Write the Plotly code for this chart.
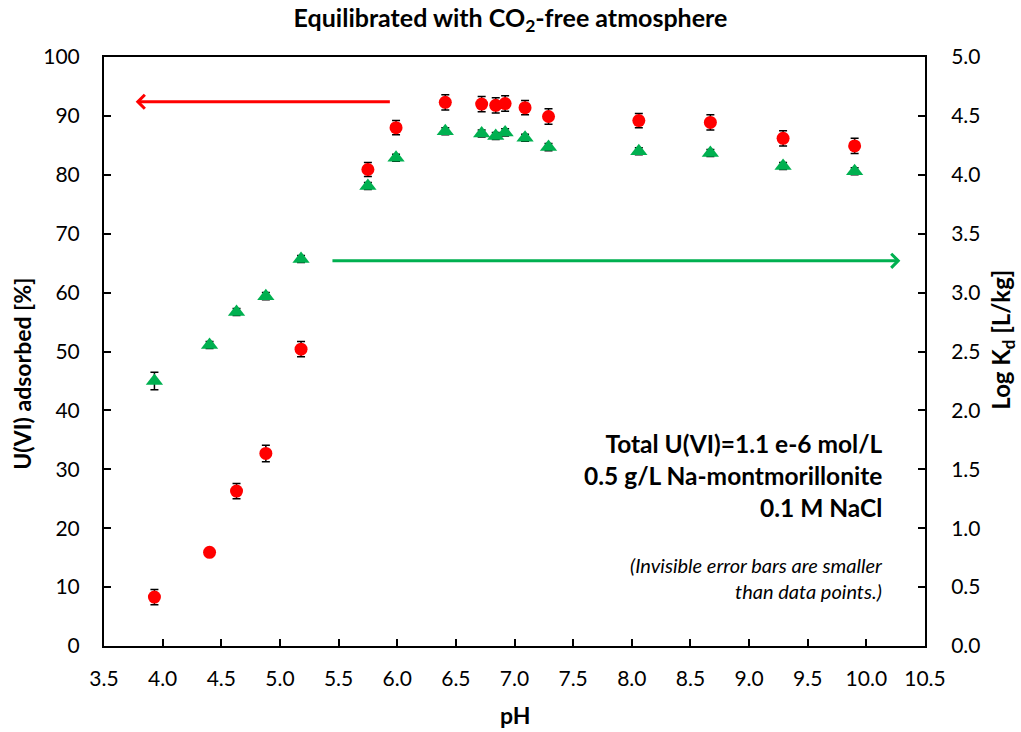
import plotly.graph_objects as go

# ---- data ----
ph_red = [3.93, 4.40, 4.63, 4.88, 5.18, 5.75, 5.99, 6.41, 6.72, 6.84, 6.92, 7.09, 7.29, 8.06, 8.67, 9.29, 9.90]
u_ads = [8.3, 15.9, 26.3, 32.7, 50.4, 80.9, 88.0, 92.3, 92.0, 91.8, 92.1, 91.4, 89.9, 89.2, 88.9, 86.2, 84.9]
u_err = [1.3, 0.6, 1.3, 1.4, 1.3, 1.2, 1.2, 1.3, 1.3, 1.3, 1.3, 1.2, 1.3, 1.2, 1.3, 1.3, 1.3]

ph_green = [3.93, 4.40, 4.63, 4.88, 5.18, 5.75, 5.99, 6.41, 6.72, 6.84, 6.92, 7.09, 7.29, 8.06, 8.67, 9.29, 9.90]
log_kd = [2.25, 2.555, 2.835, 2.97, 3.285, 3.905, 4.145, 4.37, 4.35, 4.33, 4.36, 4.315, 4.235, 4.2, 4.185, 4.075, 4.03]
kd_err = [0.074, 0.03, 0.03, 0.03, 0.03, 0.03, 0.03, 0.03, 0.03, 0.03, 0.03, 0.03, 0.03, 0.03, 0.03, 0.03, 0.03]

x_ticks = [3.5, 4.0, 4.5, 5.0, 5.5, 6.0, 6.5, 7.0, 7.5, 8.0, 8.5, 9.0, 9.5, 10.0, 10.5]

FONT = "Lato"
RED = "#FF0000"
GREEN = "#00B050"

fig = go.Figure()

fig.add_trace(go.Scatter(
    x=ph_green, y=log_kd, yaxis="y2", mode="markers",
    marker=dict(symbol="triangle-up", size=15, color=GREEN),
    error_y=dict(type="data", array=kd_err, color="black", thickness=1.5, width=4),
    name="Log Kd", showlegend=False,
))
fig.add_trace(go.Scatter(
    x=ph_red, y=u_ads, yaxis="y", mode="markers",
    marker=dict(symbol="circle", size=13, color=RED),
    error_y=dict(type="data", array=u_err, color="black", thickness=1.5, width=4),
    name="U(VI) adsorbed", showlegend=False,
))

axis_common = dict(
    showline=True, linecolor="black", linewidth=2,
    ticks="inside", ticklen=7, tickwidth=2, tickcolor="black",
    showgrid=False, zeroline=False,
    tickfont=dict(family=FONT, size=21, color="black"),
)

fig.update_layout(
    width=1021, height=732,
    margin=dict(l=104, r=96, t=57, b=86),
    paper_bgcolor="white", plot_bgcolor="white",
    font=dict(family=FONT, color="black"),
    title=dict(
        text="<b>Equilibrated with CO<sub>2</sub>-free atmosphere</b>",
        x=0.5, xanchor="center", y=0.975, yanchor="middle",
        font=dict(family=FONT, size=25, color="black"),
    ),
    xaxis=dict(
        range=[3.5, 10.5], tickvals=x_ticks, tickformat=".1f",
        mirror=True, ticklabelstandoff=13, **axis_common,
    ),
    yaxis=dict(
        range=[0, 100], dtick=10, ticklabelstandoff=18, **axis_common,
    ),
    yaxis2=dict(
        range=[0, 5], dtick=0.5, tickformat=".1f", overlaying="y", side="right",
        ticklabelstandoff=20, **axis_common,
    ),
)

annotations = [
    # axis titles
    dict(text="<b>pH</b>", xref="paper", yref="paper", x=0.5, y=-0.117,
         xanchor="center", yanchor="middle",
         showarrow=False, font=dict(family=FONT, size=23)),
    dict(text="<b>U(VI) adsorbed [%]</b>", xref="paper", yref="paper", x=-0.1, y=0.462,
         xanchor="center", yanchor="middle",
         textangle=-90, showarrow=False, font=dict(family=FONT, size=23)),
    dict(text="<b>Log K<sub>d</sub> [L/kg]</b>", xref="paper", yref="paper", x=1.095, y=0.52,
         xanchor="center", yanchor="middle",
         textangle=-90, showarrow=False, font=dict(family=FONT, size=24)),
    # info text
    dict(text="<b>Total U(VI)=1.1 e-6 mol/L<br>0.5 g/L Na-montmorillonite<br>0.1 M NaCl</b>",
         xref="x", yref="y", x=10.16, y=29.0, xanchor="right", yanchor="middle", align="right",
         showarrow=False, font=dict(family=FONT, size=24.5)),
    dict(text="<i>(Invisible error bars are smaller<br>than data points.)</i>",
         xref="x", yref="y", x=10.16, y=11.6, xanchor="right", yanchor="middle", align="right",
         showarrow=False, font=dict(family=FONT, size=20)),
    # arrows
    dict(x=3.77, y=92.4, xref="x", yref="y", ax=5.95, ay=92.4, axref="x", ayref="y",
         text="", showarrow=True, arrowhead=4, arrowsize=0.9, arrowwidth=3, arrowcolor=RED),
    dict(x=10.29, y=3.27, xref="x", yref="y2", ax=5.435, ay=3.27, axref="x", ayref="y2",
         text="", showarrow=True, arrowhead=4, arrowsize=0.9, arrowwidth=3, arrowcolor=GREEN),
]
fig.update_layout(annotations=annotations)

fig.write_html("out.html")
